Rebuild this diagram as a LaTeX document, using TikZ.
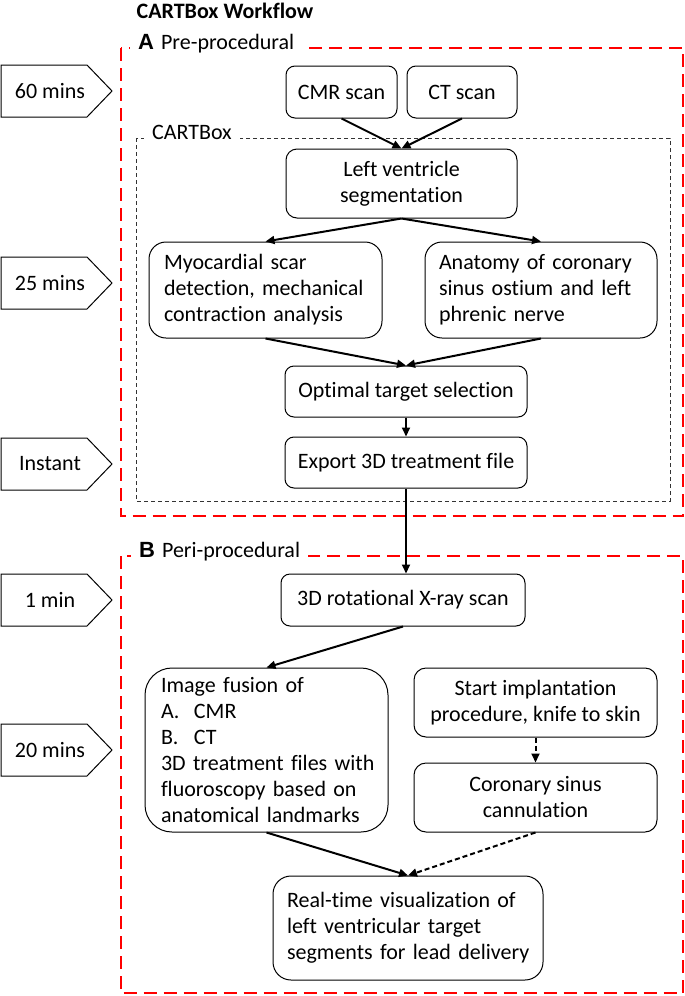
\documentclass[tikz,border=0pt]{standalone}
\usepackage{fontspec}
\setmainfont{Carlito}[Ligatures=NoCommon]
\newfontfamily\arialfont{Liberation Sans}
\usetikzlibrary{arrows.meta}
\begin{document}
\begin{tikzpicture}[x=1pt,y=-1pt,
  txt/.style={font=\fontsize{22}{26}\selectfont},
  box/.style={txt, draw, line width=1pt, rounded corners=9pt, inner sep=0pt, align=center},
  lbox/.style={box, align=left, inner xsep=15pt},
  arr/.style={-{Triangle[length=9pt,width=8pt]}, line width=2pt},
  dasharr/.style={arr, dash pattern=on 5pt off 3pt},
  redbox/.style={draw=red, line width=2pt, dash pattern=on 13pt off 7pt},
  cartbox/.style={draw=black!80, line width=1pt, dash pattern=on 4pt off 3pt},
  pent/.style={draw, line width=1pt},
  lab/.style={txt, fill=white, inner ysep=2pt}
]
\useasboundingbox (0,0) rectangle (685,996);

% title
\node[txt, font=\fontsize{22}{26}\selectfont\bfseries] (title) at (225,11) {CARTBox Workflow};

% section frames
\draw[redbox] (120.5,48) rectangle (683,516);
\draw[redbox] (120.5,556) rectangle (683,993);
\draw[cartbox] (136,138) rectangle (670,501);
\node[lab, anchor=west, inner xsep=8pt] (labA) at (130,44) {{\arialfont\bfseries A}\hspace{7pt}Pre-procedural};
\node[lab, anchor=west, inner xsep=8pt] (labB) at (131,552) {{\arialfont\bfseries B}\hspace{7pt}Peri-procedural};
\node[lab, anchor=west, inner xsep=8pt] (labC) at (144,132) {CARTBox};

% time markers
\foreach \m/\t/\n in {91/60 mins/ta, 283/25 mins/tb, 464/Instant/tc, 600/1 min/td, 750/20 mins/te}{
  \draw[pent] (1,\m-26) -- (87,\m-26) -- (112,\m) -- (87,\m+26) -- (1,\m+26) -- cycle;
  \node[txt] (\n) at (50,\m) {\t};
}

% boxes
\node[box, minimum width=111pt, minimum height=52pt] (cmr) at (341.5,92) {CMR scan};
\node[box, minimum width=110pt, minimum height=52pt] (ct) at (462,92) {CT scan};
\node[box, minimum width=231pt, minimum height=69pt, rounded corners=11pt] (lv) at (401.5,183.5) {Left ventricle\\segmentation};
\node[lbox, text width=203pt, minimum height=96pt, rounded corners=17pt] (myo) at (265.5,290) {\mbox{Myocardial scar}\\\mbox{detection, mechanical}\\\mbox{contraction analysis}};
\node[lbox, text width=204pt, inner xsep=14pt, minimum height=96pt, rounded corners=17pt] (ana) at (541,290) {\mbox{Anatomy of coronary}\\\mbox{sinus ostium and left}\\\mbox{phrenic nerve}};
\node[box, minimum width=242pt, minimum height=51pt] (opt) at (406,391.5) {Optimal target selection};
\node[box, minimum width=242pt, minimum height=51pt] (exp) at (406,462.5) {Export 3D treatment file};
\node[box, minimum width=244pt, minimum height=52pt] (xray) at (403,600) {3D rotational X-ray scan};
\node[lbox, text width=211pt, inner xsep=16pt, minimum height=164pt, rounded corners=27pt] (fus) at (266.5,750) {\mbox{Image fusion of}\\\mbox{\makebox[33pt][l]{A.}CMR}\\\mbox{\makebox[33pt][l]{B.}CT}\\\mbox{3D treatment files with}\\\mbox{fluoroscopy based on}\\\mbox{anatomical landmarks}};
\node[box, minimum width=243pt, minimum height=69pt, rounded corners=12pt] (start) at (535.5,702.5) {Start implantation\\procedure, knife to skin};
\node[box, minimum width=243pt, minimum height=69pt, rounded corners=12pt] (cor) at (535.5,797.5) {Coronary sinus\\cannulation};
\node[lbox, text width=242pt, inner xsep=14pt, minimum height=104pt, rounded corners=18pt] (rt) at (408,928) {\mbox{Real-time visualization of}\\\mbox{left ventricular target}\\\mbox{segments for lead delivery}};

% connectors
\draw[arr] (cmr.south) -- (lv.north);
\draw[arr] (ct.south) -- (lv.north);
\draw[arr] (lv.south) -- (myo.north);
\draw[arr] (lv.south) -- (ana.north);
\draw[arr] (myo.south) -- (opt.north);
\draw[arr] (ana.south) -- (opt.north);
\draw[arr] (opt.south) -- (exp.north);
\draw[arr] (exp.south) -- (exp.south |- xray.north);
\draw[arr] (xray.south) -- (fus.north);
\draw[dasharr] (start.south) -- (cor.north);
\draw[arr] (fus.south) -- (rt.north);
\draw[dasharr] (cor.south) -- (rt.north);
\end{tikzpicture}
\end{document}
